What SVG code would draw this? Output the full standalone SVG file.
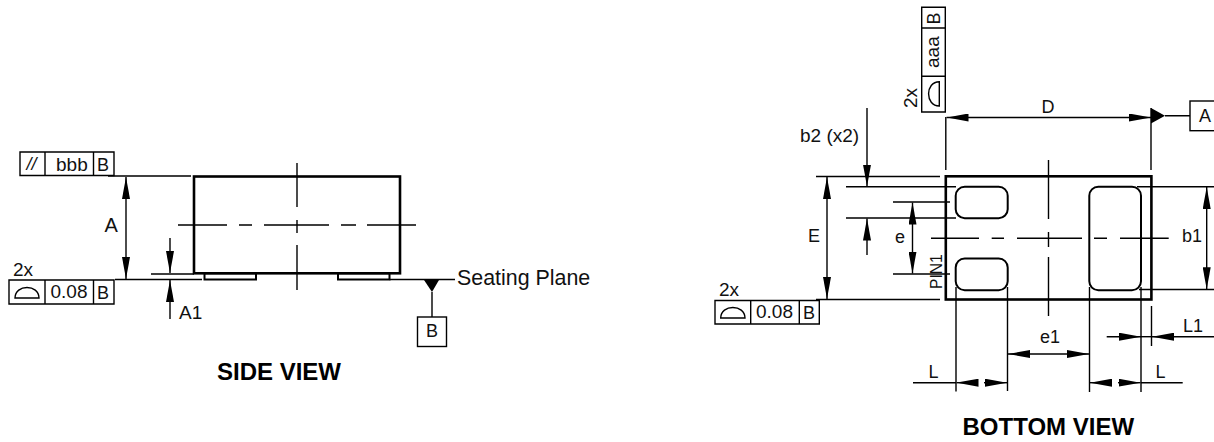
<svg xmlns="http://www.w3.org/2000/svg" width="1214" height="442" viewBox="0 0 1214 442">
<style>
text{font-family:"Liberation Sans",Arial,sans-serif;fill:#111;font-size:19px}
.b{font-weight:bold;font-size:24px;fill:#000}
.m{text-anchor:middle}
.t{font-size:18px}
.u{font-size:18px}
line,path.l,rect.l{stroke:#000;stroke-width:1.4;fill:none}
.h{stroke:#000;stroke-width:2.6;fill:none}
.p{stroke:#000;stroke-width:2;fill:none}
.k{fill:#000;stroke:none}
</style>
<defs>
<marker id="ae" markerUnits="userSpaceOnUse" markerWidth="23" markerHeight="8" refX="22" refY="4" orient="auto"><path d="M0 0L22 4L0 8Z" fill="#000"/></marker>
<marker id="as" markerUnits="userSpaceOnUse" markerWidth="23" markerHeight="8" refX="0" refY="4" orient="auto"><path d="M22 0L0 4L22 8Z" fill="#000"/></marker>
</defs>
<g id="side-view">
<rect class="h" x="194" y="176.5" width="206" height="96.8"/>
<rect class="p" x="204.500" y="273.3" width="51.5" height="6.2"/>
<rect class="p" x="338" y="273.3" width="51.5" height="6.2"/>
</g>
<g id="bottom-view">
<rect class="h" x="945.8" y="176.3" width="205.6" height="123.2"/>
<rect class="p" x="955.7" y="186.7" width="52" height="31.5" rx="9"/>
<rect class="p" x="955.7" y="258.5" width="52" height="31.8" rx="9"/>
<rect class="p" x="1089.3" y="186.7" width="51.7" height="103.6" rx="9"/>
</g>
<g id="connectors">
<path class="l" d="M297 163V207M297 220V233M297 245V290M178 225H227M239 225H252M264 225H329M341 225H356M367 225H416"/>
<path class="l" d="M108 176H191M151 274H194M115 279.5H202M389.5 279.5H455M432 292V317"/>
<line x1="126" y1="177" x2="126" y2="279" marker-start="url(#as)" marker-end="url(#ae)"/>
<line x1="170" y1="238" x2="170" y2="273" marker-end="url(#ae)"/>
<line x1="170" y1="319" x2="170" y2="280" marker-end="url(#ae)"/>
<path class="l" d="M1048.500 160V219M1048.500 232V247M1048.500 257V316M931 238.3H979M991.7 238.3H1004M1017 238.3H1082M1094 238.3H1107M1120 238.3H1168.7"/>
<path class="l" d="M816 176.500H940M816 299.500H940M846 186.700H956M846 218H956M893 202H950M893 274H950M945.800 117V170M1151 108V170M1165 115.700H1190"/>
<line x1="827" y1="177" x2="827" y2="299" marker-start="url(#as)" marker-end="url(#ae)"/>
<line x1="867" y1="108" x2="867" y2="186.500" marker-end="url(#ae)"/>
<line x1="867" y1="255" x2="867" y2="218.500" marker-end="url(#ae)"/>
<line x1="912.500" y1="202.500" x2="912.500" y2="273.500" marker-start="url(#as)" marker-end="url(#ae)"/>
<line x1="946.500" y1="117.500" x2="1151" y2="117.500" marker-start="url(#as)" marker-end="url(#ae)"/>
<path class="l" d="M1137 186.700H1214M1139 289.500H1214M956 287V391.500M1007.500 287V391M1089.500 287V392M1141 287V392M1151.500 306V346"/>
<line x1="1206.700" y1="187" x2="1206.700" y2="289.300" marker-start="url(#as)" marker-end="url(#ae)"/>
<line x1="1106.700" y1="336.700" x2="1141" y2="336.700" marker-end="url(#ae)"/>
<line x1="1214" y1="336.700" x2="1152" y2="336.700" marker-end="url(#ae)"/>
<line x1="1141" y1="336.700" x2="1152" y2="336.700"/>
<line x1="1008" y1="354" x2="1089" y2="354" marker-start="url(#as)" marker-end="url(#ae)"/>
<line x1="913" y1="382.700" x2="956" y2="382.700"/>
<line x1="956.500" y1="382.700" x2="978" y2="382.700" marker-start="url(#as)"/>
<line x1="984" y1="382.700" x2="1007" y2="382.700" marker-end="url(#ae)"/>
<line x1="1090" y1="382.700" x2="1112" y2="382.700" marker-start="url(#as)"/>
<line x1="1118" y1="382.700" x2="1140.500" y2="382.700" marker-end="url(#ae)"/>
<line x1="1141" y1="382.700" x2="1182.700" y2="382.700"/>
</g>
<g id="datum-b">
<path class="k" d="M424 280H439L432 292Z"/>
<rect class="l" x="417.500" y="317" width="29" height="29.5"/>
<text class="m t" x="432" y="337">B</text>
</g>
<g id="datum-a">
<path class="k" d="M1151 108V123.500L1165 115.700Z"/>
<rect class="l" x="1190" y="101" width="30" height="29.7"/>
<text class="m u" x="1205" y="122.300">A</text>
</g>
<g id="fcf-parallel">
<path class="l" d="M20 152H114V175.500H20ZM45 152V175.500M93.500 152V175.500"/>
<text x="26.500" y="170" style="font-style:italic;font-size:18px">//</text>
<text x="56" y="170.700">bbb</text>
<text class="t" x="97" y="171">B</text>
</g>
<g id="fcf-side">
<path class="l" d="M9 280H114V304H9ZM45 280V304M93.500 280V304M15 298H39C39 284 15 284 15 298Z"/>
<text x="13" y="276">2x</text>
<text x="50.500" y="298">0.08</text>
<text class="t" x="97" y="299">B</text>
</g>
<g id="fcf-bottom">
<path class="l" d="M715 300.500H819.300V324H715ZM750.700 300.500V324M799.300 300.500V324M720.700 318H745C745 304 720.700 304 720.700 318Z"/>
<text x="719" y="296">2x</text>
<text x="756" y="318.300">0.08</text>
<text class="t" x="803" y="319.300">B</text>
</g>
<g id="fcf-top">
<path class="l" d="M921.700 7.300H945.300V112H921.700ZM921.700 28H945.300M921.700 76.300H945.300M939.300 81.700V106C925 106 925 81.700 939.300 81.700Z"/>
<text transform="translate(917.300 108) rotate(-90)">2x</text>
<text transform="translate(939.300 68) rotate(-90)">aaa</text>
<text class="t" transform="translate(939.500 24.500) rotate(-90)">B</text>
</g>
<g id="labels">
<text x="104.500" y="232" style="font-size:20px">A</text>
<text x="179" y="319">A1</text>
<text x="457" y="285" style="font-size:21.4px">Seating Plane</text>
<text class="b" x="217" y="380">SIDE VIEW</text>
<text class="u" x="1041.500" y="113">D</text>
<text x="800" y="142">b2 (x2)</text>
<text class="u" x="808" y="241.700">E</text>
<text class="u" x="895" y="242.700">e</text>
<text class="u" x="1182" y="242">b1</text>
<text class="u" x="1040" y="343">e1</text>
<text class="t" x="1183" y="332">L1</text>
<text class="t" x="928.500" y="378">L</text>
<text class="t" x="1155.500" y="378">L</text>
<text transform="translate(941.700 289) rotate(-90)" style="font-size:15.6px">PIN1</text>
<text class="b" x="962.500" y="435">BOTTOM VIEW</text>
</g>
</svg>
